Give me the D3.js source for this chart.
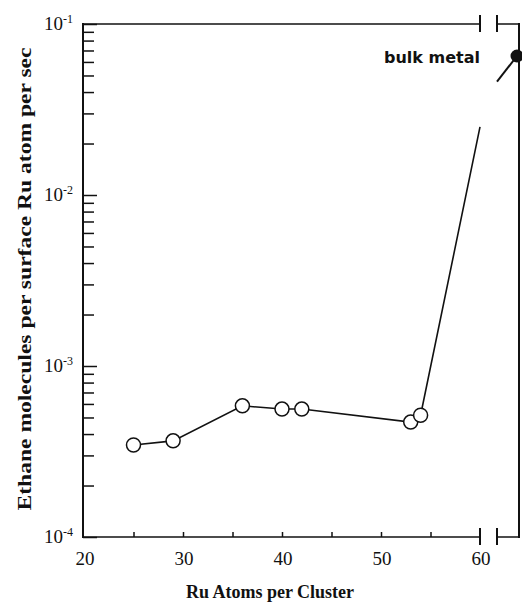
<!DOCTYPE html>
<html><head><meta charset="utf-8">
<script src="https://cdn.jsdelivr.net/npm/d3@7"></script>
<style>body{margin:0;background:#fff}svg{display:block}</style>
</head><body>
<script>
// ---- data ----
const clusterSizes = [25, 29, 36, 40, 42, 53, 54];
const rates = [3.45e-4, 3.65e-4, 5.85e-4, 5.6e-4, 5.6e-4, 4.7e-4, 5.15e-4];
const breakEnd = [60, 0.025];          // line continues up to axis break
const bulkLabel = "bulk metal";
const bulkRate = 0.065;
const bulkLineStart = 0.046;           // rate where bulk segment begins after break
const xTicks = [20, 30, 40, 50, 60];
const xMinorTicks = [25, 30, 35, 40, 45, 50, 55];
const yMajor = [1e-4, 1e-3, 1e-2, 1e-1];
const yLabelExp = ["-4", "-3", "-2", "-1"];

const W = 522, H = 604;
const L = 83, R = 519, T = 24, B = 537;
const breakA = 480, breakB = 497, bulkX = 517;

const svg = d3.select("body").append("svg").attr("width", W).attr("height", H);

const x = d3.scaleLinear().domain([20, 60]).range([L + 1, breakA]);
const y = d3.scaleLog().domain([1e-4, 1e-1]).range([B, T]);
const xb = d3.scalePoint().domain(["break", "bulk"]).range([breakB, bulkX]);

const ink = "#111";
const serif = "Liberation Serif, Times New Roman, serif";

// axes frame
const g = svg.append("g").attr("stroke", ink).attr("fill", "none");
g.append("line").attr("x1", L).attr("x2", L).attr("y1", T - 1).attr("y2", B + 1).attr("stroke-width", 2);
g.append("line").attr("x1", R).attr("x2", R).attr("y1", T - 1).attr("y2", B + 1).attr("stroke-width", 2);
[T, B].forEach(yy => {
  g.append("line").attr("x1", L).attr("x2", breakA).attr("y1", yy).attr("y2", yy).attr("stroke-width", 1.5);
  g.append("line").attr("x1", breakB).attr("x2", R).attr("y1", yy).attr("y2", yy).attr("stroke-width", 1.5);
  [breakA, breakB].forEach(xx => {
    g.append("line").attr("x1", xx).attr("x2", xx).attr("y1", yy - 9).attr("y2", yy + 8).attr("stroke-width", 2);
  });
});

// y ticks (inward)
const minor = y.ticks().filter(v => !yMajor.some(m => Math.abs(m - v) / m < 1e-6));
const yMinorAxis = d3.axisRight(y).tickValues(minor).tickSize(11).tickFormat("");
const yMajorAxis = d3.axisRight(y).tickValues(yMajor).tickSize(14).tickFormat("");
[yMinorAxis, yMajorAxis].forEach(ax => {
  const a = svg.append("g").attr("transform", `translate(${L},0)`).call(ax);
  a.select(".domain").remove();
  a.selectAll("line").attr("stroke", ink).attr("stroke-width", 1.5);
});

// x ticks (inward, small)
const xAx = svg.append("g").attr("transform", `translate(0,${B})`)
  .call(d3.axisTop(x).tickValues(xMinorTicks).tickSize(5).tickFormat(""));
xAx.select(".domain").remove();
xAx.selectAll("line").attr("stroke", ink).attr("stroke-width", 1.5);

// x tick labels
svg.append("g").selectAll("text").data(xTicks).join("text")
  .attr("x", d => x(d) + 1).attr("y", 565)
  .attr("text-anchor", "middle").attr("font-family", serif).attr("font-size", 19)
  .attr("fill", ink).text(d => d);

// y tick labels
const yl = svg.append("g").selectAll("text").data(yMajor).join("text")
  .attr("x", 73).attr("y", d => y(d) + 6)
  .attr("text-anchor", "end").attr("font-family", serif).attr("font-size", 19).attr("fill", ink);
yl.append("tspan").text("10");
yl.append("tspan").attr("dy", -7).attr("font-size", 12).text((d, i) => yLabelExp[i]);

// axis titles
svg.append("text").attr("x", 270).attr("y", 598).attr("text-anchor", "middle")
  .attr("font-family", serif).attr("font-weight", "bold").attr("font-size", 18).attr("fill", ink)
  .text("Ru Atoms per Cluster");
svg.append("text").attr("transform", "translate(31,279) rotate(-90)").attr("text-anchor", "middle")
  .attr("font-family", serif).attr("font-weight", "bold").attr("font-size", 19).attr("fill", ink)
  .attr("textLength", 463).attr("lengthAdjust", "spacingAndGlyphs")
  .text("Ethane molecules per surface Ru atom per sec");

// data line
const pts = clusterSizes.map((c, i) => [c, rates[i]]);
const line = d3.line().x(d => x(d[0])).y(d => y(d[1]));
svg.append("path").datum(pts.concat([breakEnd])).attr("d", line)
  .attr("fill", "none").attr("stroke", ink).attr("stroke-width", 1.6);

// bulk segment
svg.append("line").attr("x1", xb("break")).attr("y1", y(bulkLineStart))
  .attr("x2", xb("bulk")).attr("y2", y(bulkRate))
  .attr("stroke", ink).attr("stroke-width", 2);
svg.append("circle").attr("cx", xb("bulk")).attr("cy", y(bulkRate)).attr("r", 6.5).attr("fill", ink);
svg.append("text").attr("x", 480).attr("y", 63).attr("text-anchor", "end")
  .attr("font-family", "DejaVu Sans, sans-serif").attr("font-weight", "bold").attr("font-size", 16)
  .attr("fill", ink).text(bulkLabel);

// markers
svg.append("g").selectAll("circle").data(pts).join("circle")
  .attr("cx", d => x(d[0])).attr("cy", d => y(d[1])).attr("r", 7)
  .attr("fill", "#fff").attr("stroke", ink).attr("stroke-width", 1.5);
</script>
</body></html>
